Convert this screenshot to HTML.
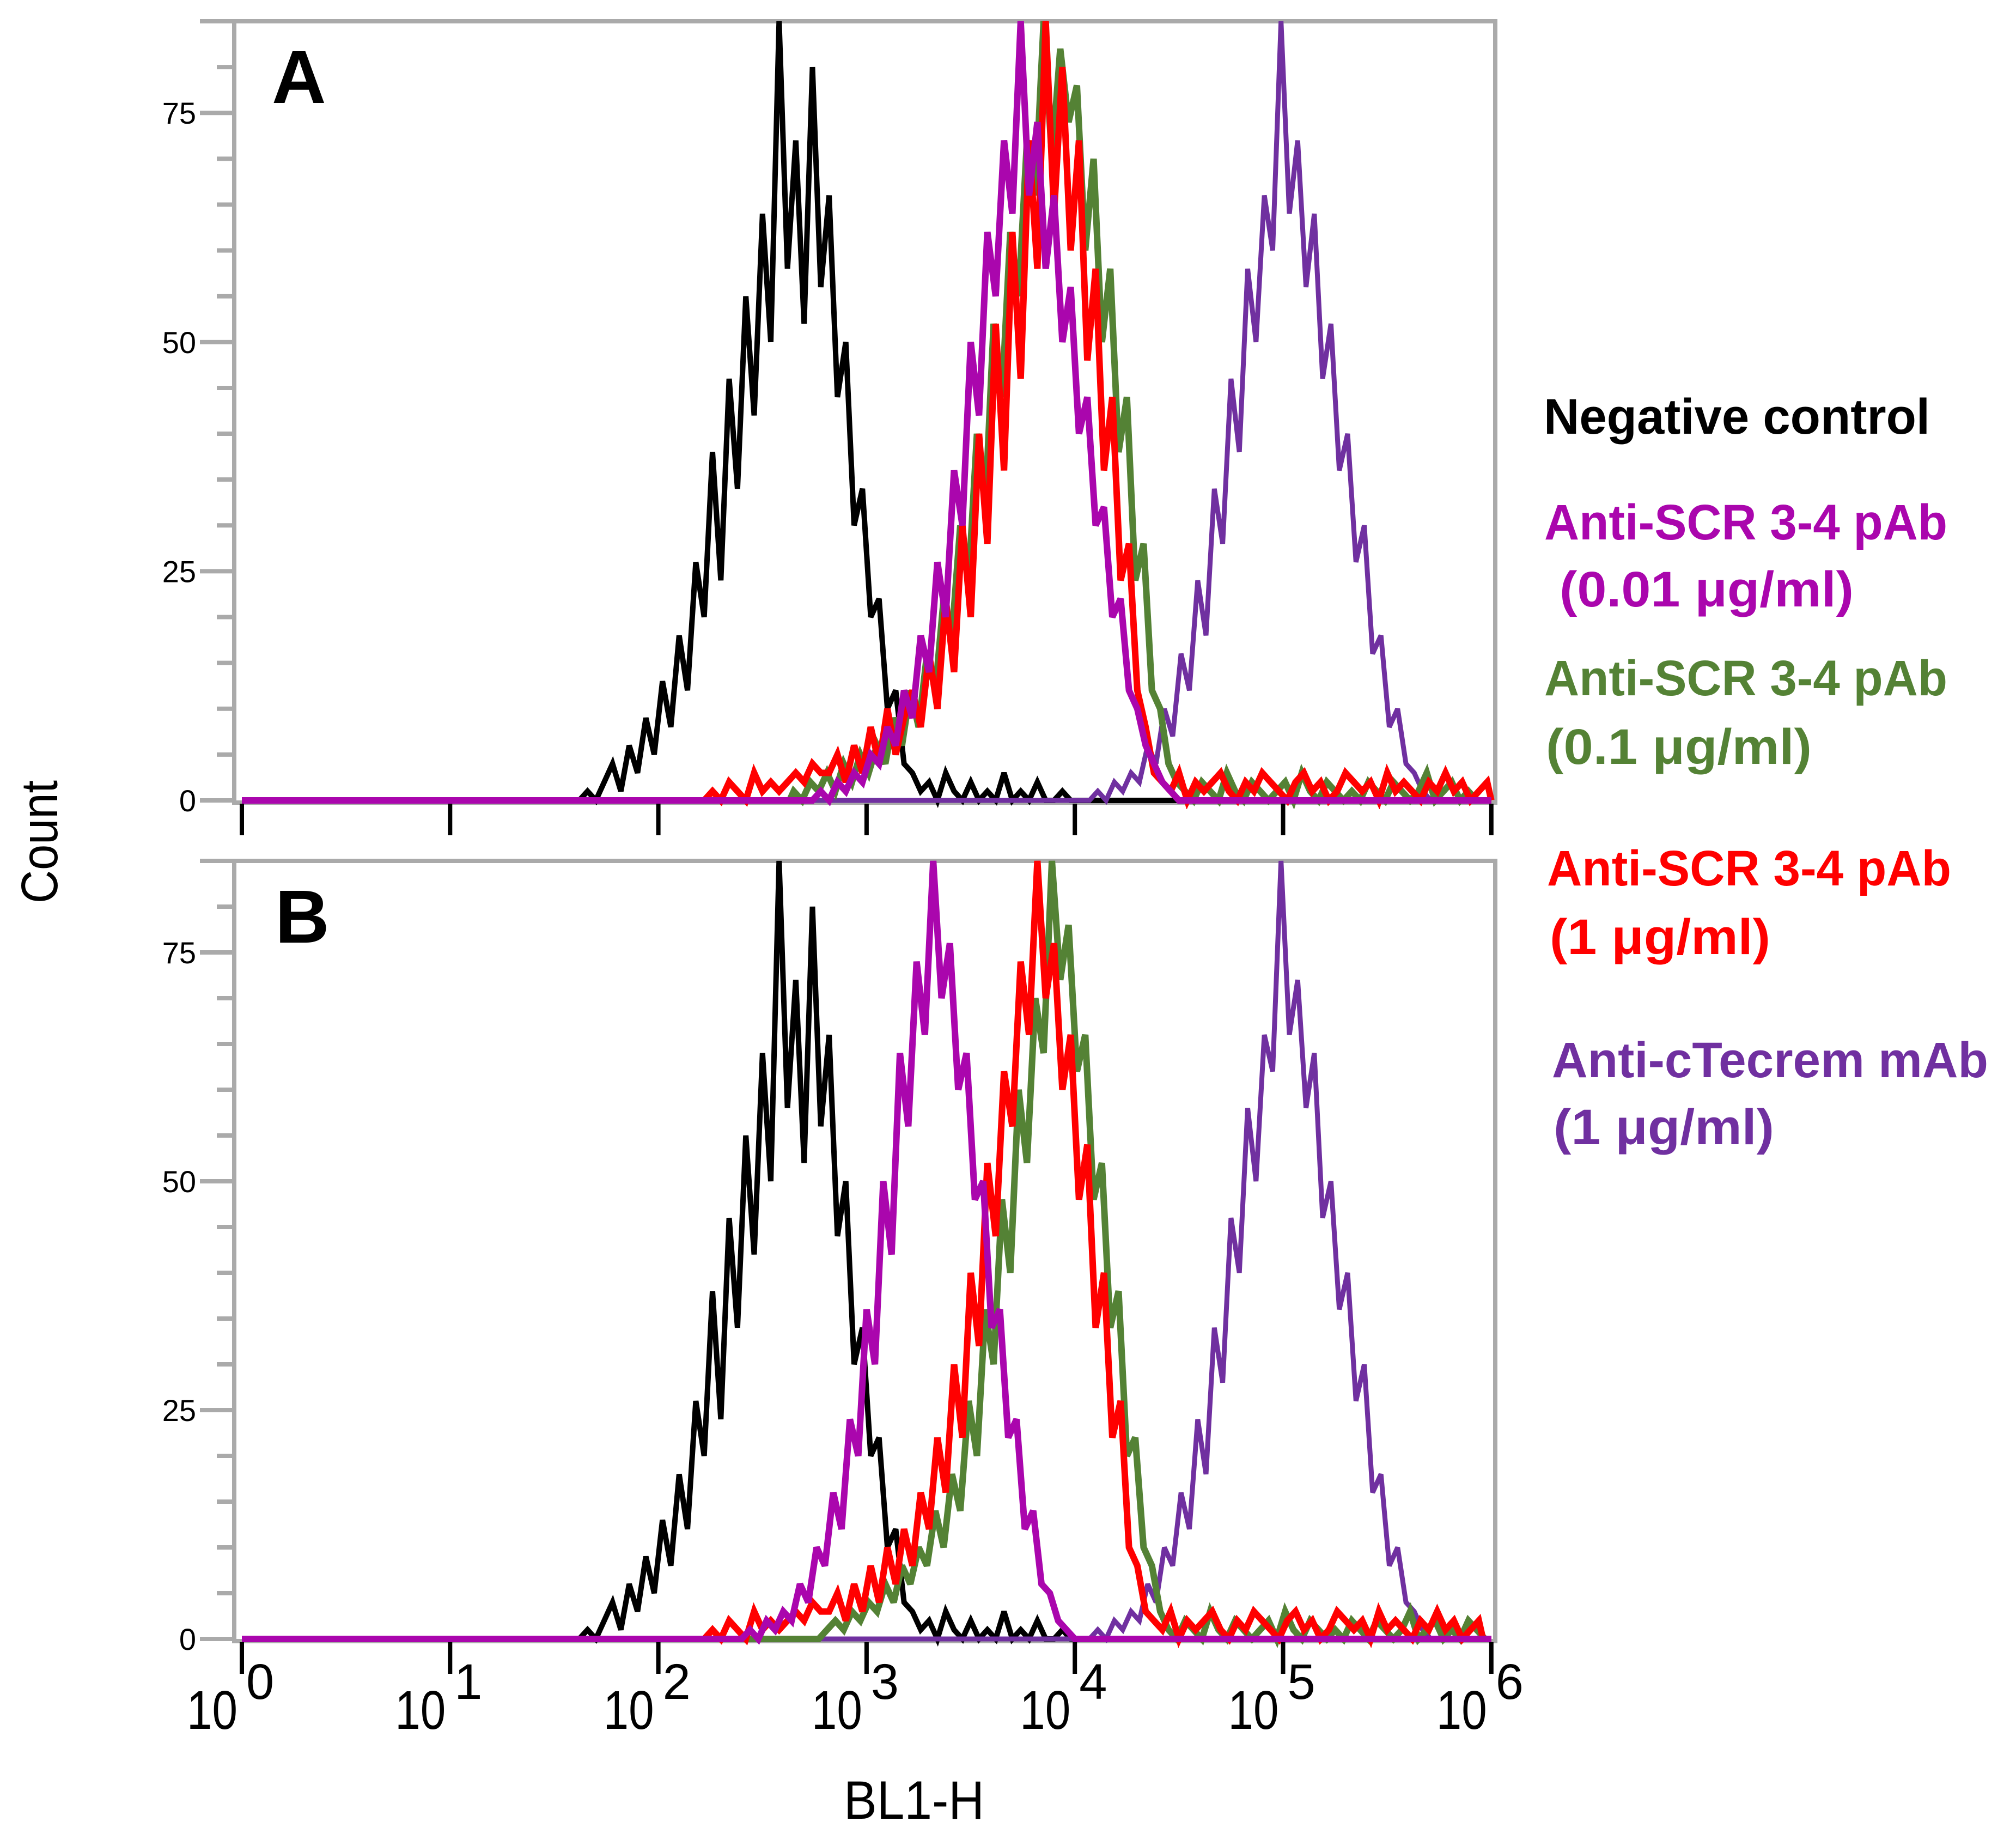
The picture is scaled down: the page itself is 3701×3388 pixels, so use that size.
<!DOCTYPE html>
<html><head><meta charset="utf-8">
<style>
html,body{margin:0;padding:0;background:#fff;}
svg{display:block;}
text{font-family:"Liberation Sans",Arial,sans-serif;}
.lg{font-family:"Liberation Sans",sans-serif;font-weight:bold;font-size:92px;}
</style></head>
<body>
<svg id="chart" width="3701" height="3388" viewBox="0 0 3701 3388" xmlns="http://www.w3.org/2000/svg">
<defs>
  <clipPath id="clipA"><rect x="430" y="35" width="2320" height="1450"/></clipPath>
  <clipPath id="clipB"><rect x="430" y="1576" width="2320" height="1450"/></clipPath>
</defs>
<g id="plots"></g>
<g>
  <text class="lg" x="2834" y="796" textLength="709" lengthAdjust="spacingAndGlyphs" fill="#000">Negative control</text>
  <text class="lg" x="2835" y="990" textLength="740" lengthAdjust="spacingAndGlyphs" fill="#aa06ad">Anti-SCR 3-4 pAb</text>
  <text class="lg" x="2863" y="1113" textLength="540" lengthAdjust="spacingAndGlyphs" fill="#aa06ad">(0.01 μg/ml)</text>
  <text class="lg" x="2835" y="1276" textLength="740" lengthAdjust="spacingAndGlyphs" fill="#548235">Anti-SCR 3-4 pAb</text>
  <text class="lg" x="2838" y="1402" textLength="488" lengthAdjust="spacingAndGlyphs" fill="#548235">(0.1 μg/ml)</text>
  <text class="lg" x="2840" y="1625" textLength="742" lengthAdjust="spacingAndGlyphs" fill="#ff0000">Anti-SCR 3-4 pAb</text>
  <text class="lg" x="2845" y="1751" textLength="405" lengthAdjust="spacingAndGlyphs" fill="#ff0000">(1 μg/ml)</text>
  <text class="lg" x="2849" y="1977" textLength="801" lengthAdjust="spacingAndGlyphs" fill="#7030a0">Anti-cTecrem mAb</text>
  <text class="lg" x="2852" y="2100" textLength="405" lengthAdjust="spacingAndGlyphs" fill="#7030a0">(1 μg/ml)</text>
</g>
<text x="105" y="1545" transform="rotate(-90 105 1545)" text-anchor="middle" font-size="95" textLength="226" lengthAdjust="spacingAndGlyphs">Count</text>
<text x="1549" y="3338" font-size="99" textLength="258" lengthAdjust="spacingAndGlyphs">BL1-H</text>
</svg>
<script>
// ---- data (log10 start, step, counts) ----
const yTicks = [0, 25, 50, 75];
const xDecades = [0, 1, 2, 3, 4, 5, 6];
const binStep = 0.04;
const blackStart = 1.6;
const blackVals = [0,1,0,2,4,1,6,3,9,5,13,8,18,12,26,20,38,24,46,34,55,42,64,50,85,58,72,52,80,56,66,44,50,30,34,20,22,10,12,4,3,1,2,0,3,1,0,2,0,1,0,3,0,1,0,2,0,0,1,0,0,0];
const magAStart = 2.72;
const magAVals = [0,1,0,2,1,3,2,5,4,8,6,12,9,18,14,26,20,36,30,50,42,62,55,72,64,85,66,74,58,66,50,56,40,44,30,32,20,22,12,10,6,4,2,1,0];
const greenAStart = 2.63;
const greenAVals = [1,0,2,1,3,1,4,2,5,3,6,4,9,6,12,8,16,12,22,18,30,24,40,32,52,44,62,55,72,66,85,70,82,74,78,60,70,50,58,38,44,24,28,12,10,4,2,1,0,2,1,0,3,1,0,2,1,0,1,2,0,3,1,0,2,1,0,1,0,2,1,0,2,1,0,1,3,0,1,2,0,1,0];
const redAStart = 2.2;
const redAVals = [0,1,0,2,1,0,3,1,2,1,2,3,2,4,3,3,5,2,6,3,8,4,10,5,9,12,8,16,10,22,14,30,20,40,28,52,36,62,46,72,58,85,64,80,60,72,48,58,36,44,24,28,12,8,3,2,1,3,0,2,1,2,3,1,0,2,1,3,2,1,0,2,3,1,2,0,1,3,2,1,2,0,3,1,2,1,0,2,1,3,1,2,0,1,2];
const purpleAStart = 4.05;
const purpleAVals = [0,1,0,2,1,3,2,6,4,10,7,16,12,24,18,34,28,46,38,58,50,66,60,85,64,72,56,64,46,52,36,40,26,30,16,18,8,10,4,3,1,0];
const magBStart = 2.38;
const magBVals = [0,1,0,2,1,3,2,6,4,10,8,16,12,24,20,36,30,50,42,64,56,74,66,85,70,76,60,64,48,50,34,36,22,24,12,14,6,5,2,1,0];
const greenBStart = 2.75;
const greenBVals = [0,1,2,1,3,2,4,3,6,4,8,6,10,8,14,10,18,14,26,20,36,30,48,40,60,52,70,64,85,72,78,62,66,48,52,34,38,20,22,10,8,3,1,0,2,1,0,3,1,0,2,1,0,1,2,0,3,1,0,2,1,0,1,0,2,1,0,2,1,0,1,3,0,1,2,0,1,0,2,1,0];
const redBStart = 2.2;
const redBVals = [0,1,0,2,1,0,3,1,2,1,2,3,2,4,3,3,5,2,6,3,8,4,10,6,12,8,16,12,22,16,30,22,40,32,52,44,62,56,74,66,85,70,76,60,66,48,54,34,40,22,26,10,8,3,2,1,3,0,2,1,2,3,1,0,2,1,3,2,1,0,2,3,1,2,0,1,3,2,1,2,0,3,1,2,1,0,2,1,3,1,2,0,1,2];
const purpleBStart = 4.05;
const purpleBVals = [0,1,0,2,1,3,2,6,4,10,8,16,12,24,18,34,28,46,40,58,50,66,62,85,66,72,58,64,46,50,36,40,26,30,16,18,8,10,4,3,1,0];

const NS = "http://www.w3.org/2000/svg";
const root = document.getElementById('plots');
const X0 = 444, DEC = 382.3, YMAX = 85;
function xs(l){ return X0 + l * DEC; }

const panels = [
  {name:'panel-a', letter:'A', top:39, zero:1469, clip:'clipA', series:[
    ['negative-control-a','#000',10,blackStart,blackVals],
    ['anti-ctecrem-a','#7030a0',9,purpleAStart,purpleAVals],
    ['anti-scr-01-a','#548235',12,greenAStart,greenAVals],
    ['anti-scr-1-a','#ff0000',12,redAStart,redAVals],
    ['anti-scr-001-a','#aa06ad',12,magAStart,magAVals]]},
  {name:'panel-b', letter:'B', top:1580, zero:3008, clip:'clipB', series:[
    ['negative-control-b','#000',10,blackStart,blackVals],
    ['anti-ctecrem-b','#7030a0',9,purpleBStart,purpleBVals],
    ['anti-scr-01-b','#548235',12,greenBStart,greenBVals],
    ['anti-scr-1-b','#ff0000',12,redBStart,redBVals],
    ['anti-scr-001-b','#aa06ad',12,magBStart,magBVals]]}
];

function mk(tag, attrs, parent){
  const e = document.createElementNS(NS, tag);
  for (const k in attrs) e.setAttribute(k, attrs[k]);
  parent.appendChild(e); return e;
}

panels.forEach(p => {
  const g = mk('g', {}, root);
  
  
  const ys = v => p.zero - v * (p.zero - p.top) / YMAX;
  const box = mk('rect', {x:430, y:p.top, width:2745-430, height:p.zero+4-p.top, fill:'none', stroke:'#aaa', 'stroke-width':8}, g);
  
  
  for (let v = 0; v <= 85; v += 5) {
    const major = (v % 25 === 0) || v === 85;
    const t = mk('line', {x1: major ? 367 : 398, x2: 430, y1: ys(v), y2: ys(v), stroke:'#aaa', 'stroke-width':8}, g);
    
    
  }
  yTicks.forEach(v => {
    const t = mk('text', {x:360, y:ys(v)+20, 'text-anchor':'end', 'font-size':56}, g);
    t.textContent = v;
    
    
  });
  xDecades.forEach(d => {
    const t = mk('line', {x1:xs(d), x2:xs(d), y1:p.zero+6, y2:p.zero+64, stroke:'#000', 'stroke-width':8}, g);
    
    
  });
  const sg = mk('g', {'clip-path':'url(#'+p.clip+')'}, g);
  
  
  p.series.forEach(s => {
    const [nm, col, w, st, vals] = s;
    let pts = [[xs(0), ys(0)], [xs(st), ys(0)]];
    vals.forEach((v, i) => {
      pts.push([xs(st + i * binStep + binStep/2), ys(v)]);
    });
    pts.push([Math.min(xs(6), xs(st + vals.length * binStep)), ys(0)]);
    pts.push([xs(6), ys(0)]);
    const path = mk('polyline', {points: pts.map(q => q[0].toFixed(1)+','+q[1].toFixed(1)).join(' '), fill:'none', stroke:col, 'stroke-width':w, 'stroke-linejoin':'miter', 'stroke-miterlimit':3}, sg);
    
    
  });
  const L = mk('text', {x:p.letter==='A'?499:505, y:p.top+150, 'font-size':138, 'font-weight':'bold'}, g);
  L.textContent = p.letter;
  
  
});

xDecades.forEach(d => {
  const g = mk('g', {}, root);
  
  
  const b = mk('text', {x:xs(d)-8, y:3173, 'text-anchor':'end', 'font-size':100, textLength:93, lengthAdjust:'spacingAndGlyphs'}, g);
  b.textContent = '10';
  const e = mk('text', {x:xs(d)+8, y:3118, 'font-size':92}, g);
  e.textContent = d;
});
</script>
</body></html>
